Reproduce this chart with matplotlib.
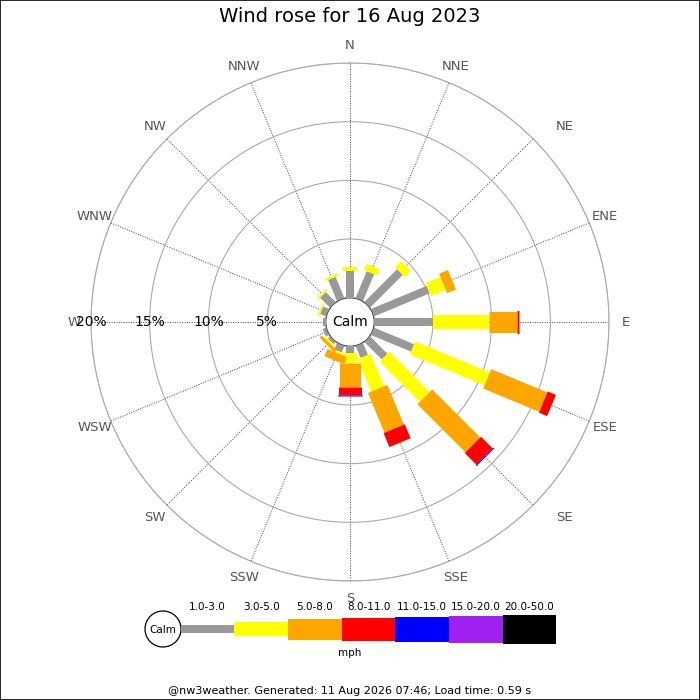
import numpy as np
import matplotlib.pyplot as plt
from matplotlib.patches import Circle, Rectangle

# wind directions and frequency (%) per speed class
directions = ['N', 'NNE', 'NE', 'ENE', 'E', 'ESE', 'SE', 'SSE',
              'S', 'SSW', 'SW', 'WSW', 'W', 'WNW', 'NW', 'NNW']
speed_bins = ['1.0-3.0', '3.0-5.0', '5.0-8.0', '8.0-11.0', '11.0-15.0', '15.0-20.0', '20.0-50.0']
bin_colors = ['#999999', '#ffff00', '#ffa500', '#ff0000', '#0000ff', '#a020f0', '#000000']

pct_1_3 = [2.30, 2.48, 3.95, 5.14, 5.03, 3.70, 2.10, 1.10, 0.60, 0.60, 0.25, 0.30, 0.25, 0.55, 1.20, 1.95]
pct_3_5 = [0.28, 0.57, 0.75, 1.38, 4.77, 6.89, 4.85, 3.00, 0.85, 0.20, 0.20, 0.00, 0.00, 0.15, 0.15, 0.20]
pct_5_8 = [0.00, 0.00, 0.00, 0.82, 2.34, 5.17, 5.79, 3.67, 1.99, 0.65, 0.25, 0.00, 0.00, 0.00, 0.00, 0.00]
pct_8_11 = [0.00, 0.00, 0.00, 0.00, 0.17, 0.76, 1.40, 1.29, 0.71, 0.00, 0.00, 0.00, 0.00, 0.00, 0.00, 0.00]
pct_11_15 = [0.00, 0.00, 0.00, 0.00, 0.00, 0.00, 0.10, 0.00, 0.10, 0.00, 0.00, 0.00, 0.00, 0.00, 0.00, 0.00]
pct_15_20 = [0.0] * 16
pct_20_50 = [0.0] * 16

ring_pcts = [5, 10, 15, 20]
title = 'Wind rose for 16 Aug 2023'
footer = '@nw3weather. Generated: 11 Aug 2026 07:46; Load time: 0.59 s'

# bar thickness in pixels for each speed class
bar_px = [8, 14, 21, 23, 25, 27, 29]
PX = 0.72  # points per pixel at dpi 100

fig = plt.figure(figsize=(7, 7), dpi=100)
ax = fig.add_axes([0.13, 0.17, 0.74, 0.74], projection='polar')
ax.set_theta_zero_location('N')
ax.set_theta_direction(-1)
ax.set_ylim(0, 20)
ax.set_rorigin(-2.07)

theta = np.deg2rad(np.arange(16) * 22.5)
ax.set_xticks(theta)
ax.set_xticklabels([])
ax.set_yticks(ring_pcts)
ax.set_yticklabels([])
ax.tick_params(length=0)
ax.xaxis.grid(True, linestyle=(0, (1, 1.5)), color='#444444', linewidth=0.7)
ax.yaxis.grid(True, linestyle='-', color='#aaaaaa', linewidth=0.8)
ax.spines['polar'].set_color('#aaaaaa')
ax.spines['polar'].set_linewidth(0.8)
ax.spines['inner'].set_visible(False)

series = [pct_1_3, pct_3_5, pct_5_8, pct_8_11, pct_11_15, pct_15_20, pct_20_50]
base = np.zeros(16)
for vals, col, w in zip(series, bin_colors, bar_px):
    vals = np.array(vals)
    for th, r0, v in zip(theta, base, vals):
        if v > 0:
            ax.plot([th, th], [r0, r0 + v], color=col, lw=w * PX,
                    solid_capstyle='butt', zorder=3)
    base = base + vals

# calm circle in the middle
ax.add_patch(Circle((0.5, 0.5), 0.047, transform=ax.transAxes,
                    facecolor='white', edgecolor='none', zorder=4))
ax.text(0.5, 0.5, 'Calm', transform=ax.transAxes, ha='center', va='center',
        fontsize=10, zorder=5)

# ring labels along the west spoke
for p in ring_pcts:
    ax.text(np.deg2rad(270), p, f'{p}%', ha='center', va='center', fontsize=10, zorder=5)

# compass labels
for th, d in zip(theta, directions):
    dx = 14 if d in ('NE', 'SE') else 0
    ax.annotate(d, (th, 21.45), xytext=(dx, 0), textcoords='offset points',
                ha='center', va='center', fontsize=9.5, color='#555555',
                annotation_clip=False)

fig.text(0.5, 1 - 17 / 700, title, ha='center', va='center', fontsize=14)

# speed legend drawn in pixel coords
lg = fig.add_axes([0, 0, 1, 1], zorder=-1)
lg.set_xlim(0, 700)
lg.set_ylim(700, 0)
lg.axis('off')
lg.add_patch(Circle((163, 629), 18, facecolor='white', edgecolor='black', lw=0.9))
lg.text(163, 630, 'Calm', ha='center', va='center', fontsize=7.5)
seg = 53.7
for i, (lab, col, w) in enumerate(zip(speed_bins, bin_colors, bar_px)):
    x0 = 180.5 + i * seg
    lg.add_patch(Rectangle((x0, 629 - w / 2), seg, w, facecolor=col, edgecolor='none'))
    lg.text(x0 + seg / 2, 607, lab, ha='center', va='center', fontsize=7.5)
lg.text(350, 653, 'mph', ha='center', va='center', fontsize=7.5)
lg.text(350, 691, footer, ha='center', va='center', fontsize=8)

fig.patches.append(Rectangle((0, 0), 1, 1, transform=fig.transFigure, fill=False,
                             edgecolor='black', lw=1.2))

fig.savefig('out.png', dpi=100)
